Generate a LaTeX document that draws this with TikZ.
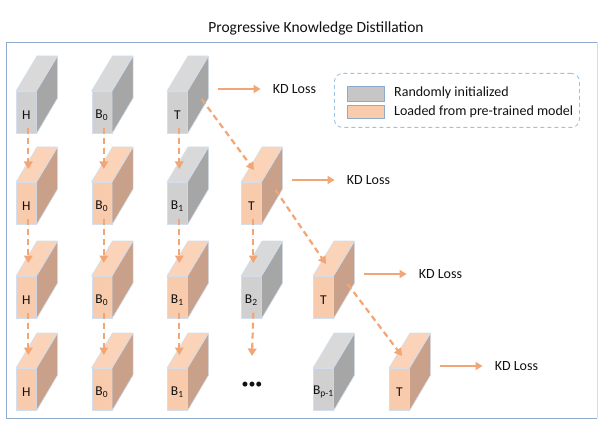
\documentclass[tikz,border=0pt]{standalone}
\usepackage{fontspec}
\setmainfont{Carlito}
\usetikzlibrary{arrows.meta}
\definecolor{gfront}{HTML}{D0D0D0}
\definecolor{gtop}{HTML}{D9D9D9}
\definecolor{gside}{HTML}{A6A6A6}
\definecolor{ofront}{HTML}{F8CBAD}
\definecolor{otop}{HTML}{FAD3B8}
\definecolor{oside}{HTML}{C9A089}
\definecolor{edgec}{HTML}{D3DFEE}
\definecolor{arrc}{HTML}{F2A676}
\definecolor{framec}{HTML}{8EAACC}
\definecolor{legc}{HTML}{9DC3E6}
\definecolor{txt}{HTML}{111111}
\tikzset{
  frontface/.style={draw=edgec, line width=0.6pt, minimum width=20pt, minimum height=42pt, inner sep=0pt, anchor=north west},
  lbl/.style={text=txt, font=\fontsize{13.5}{15}\selectfont, inner sep=0pt},
  kdtext/.style={text=txt, font=\fontsize{14}{16}\selectfont, anchor=west, inner sep=0pt},
  solidarr/.style={draw=arrc, line width=2.2pt, -{Triangle[length=7pt,width=8pt]}},
  dasharr/.style={draw=arrc, line width=2.2pt, dash pattern=on 6pt off 4pt, -{Triangle[length=7.5pt,width=8.5pt]}},
}
\newcommand\cubeblk[5]{%
  \node[frontface, fill=#4front] (#1) at (#2,#3) {};
  \filldraw[fill=#4top, draw=edgec, line width=0.6pt, line join=round] (#1.north west) -- ++(21,-35) -- ++(20,0) -- (#1.north east) -- cycle;
  \filldraw[fill=#4side, draw=edgec, line width=0.6pt, line join=round] (#1.north east) -- ++(21,-35) -- ++(0,42) -- (#1.south east) -- cycle;
  \node[lbl] at ([yshift=-3pt]#1.center) {#5};
}
\begin{document}
\begin{tikzpicture}[x=1pt,y=-1pt]
\useasboundingbox (0,0) rectangle (616,433);
% frame
\draw[draw=framec!40, line width=0.8pt] (597,42) -- (597,418);
\draw[draw=framec, line width=0.9pt] (597,42) -- (6,42) -- (6,418) -- (597,418);
% title
\node[text=txt, font=\fontsize{15.5}{17}\selectfont] (title) at (316,28) {Progressive Knowledge Distillation};
% legend
\node[draw=legc, line width=0.9pt, dash pattern=on 4pt off 3pt, rounded corners=8pt, minimum width=245pt, minimum height=54pt, anchor=north west] (legend) at (334,73) {};
\node[draw=framec, line width=0.6pt, fill=gfront!95!black, minimum width=37pt, minimum height=15pt, inner sep=0pt, anchor=north west] (sw1) at (347,86) {};
\node[draw=framec, line width=0.6pt, fill=ofront, minimum width=37pt, minimum height=13pt, inner sep=0pt, anchor=north west] (sw2) at (347,105) {};
\node[kdtext] (lt1) at (394,93) {Randomly initialized};
\node[kdtext] (lt2) at (394,111.5) {Loaded from pre-trained model};
% row 1
\cubeblk{h1}{16}{91}{g}{H}
\cubeblk{ba1}{91.5}{91}{g}{B\textsubscript{0}}
\cubeblk{t1}{167}{91}{g}{T}
% row 2
\cubeblk{h2}{16}{182}{o}{H}
\cubeblk{ba2}{91.5}{182}{o}{B\textsubscript{0}}
\cubeblk{bb2}{167}{182}{g}{B\textsubscript{1}}
\cubeblk{t2}{241}{182}{o}{T}
% row 3
\cubeblk{h3}{16}{276}{o}{H}
\cubeblk{ba3}{91.5}{276}{o}{B\textsubscript{0}}
\cubeblk{bb3}{167}{276}{o}{B\textsubscript{1}}
\cubeblk{bc3}{241}{276}{g}{B\textsubscript{2}}
\cubeblk{t3}{313}{276}{o}{T}
% row 4
\cubeblk{h4}{16}{368}{o}{H}
\cubeblk{ba4}{91.5}{368}{o}{B\textsubscript{0}}
\cubeblk{bb4}{167}{368}{o}{B\textsubscript{1}}
\node[text=txt, font=\fontsize{14}{16}\selectfont, inner sep=0pt] (dots) at (252,385) {•••};
\cubeblk{bp4}{313}{368}{g}{B\textsubscript{p-1}}
\cubeblk{t4}{389}{368}{o}{T}
% vertical arrows
\foreach \a/\b in {h1/h2,h2/h3,h3/h4,ba1/ba2,ba2/ba3,ba3/ba4,t1/bb2,bb2/bb3,bb3/bb4,t2/bc3}{
  \draw[dasharr] ([xshift=2pt,yshift=6pt]\a.south) -- ([xshift=2pt,yshift=13pt]\b.north);
}
\coordinate (dotsin) at (252,356);
\draw[dasharr] ([xshift=2pt,yshift=6pt]bc3.south) -- (dotsin);
% diagonal arrows
\foreach \a/\b in {t1/t2,t2/t3,t3/t4}{
  \draw[dasharr] ([xshift=14pt,yshift=-8pt]\a.north east) -- ([xshift=13pt,yshift=12pt]\b.north west);
}
% KD Loss
\foreach \t/\k in {t1/kd1,t2/kd2,t3/kd3,t4/kd4}{
  \node[kdtext] (\k) at ([xshift=85pt,yshift=2pt]\t.north east) {KD Loss};
  \draw[solidarr] ([xshift=30pt,yshift=2pt]\t.north east) -- ([xshift=-12pt]\k.west);
}
\end{tikzpicture}
\end{document}
